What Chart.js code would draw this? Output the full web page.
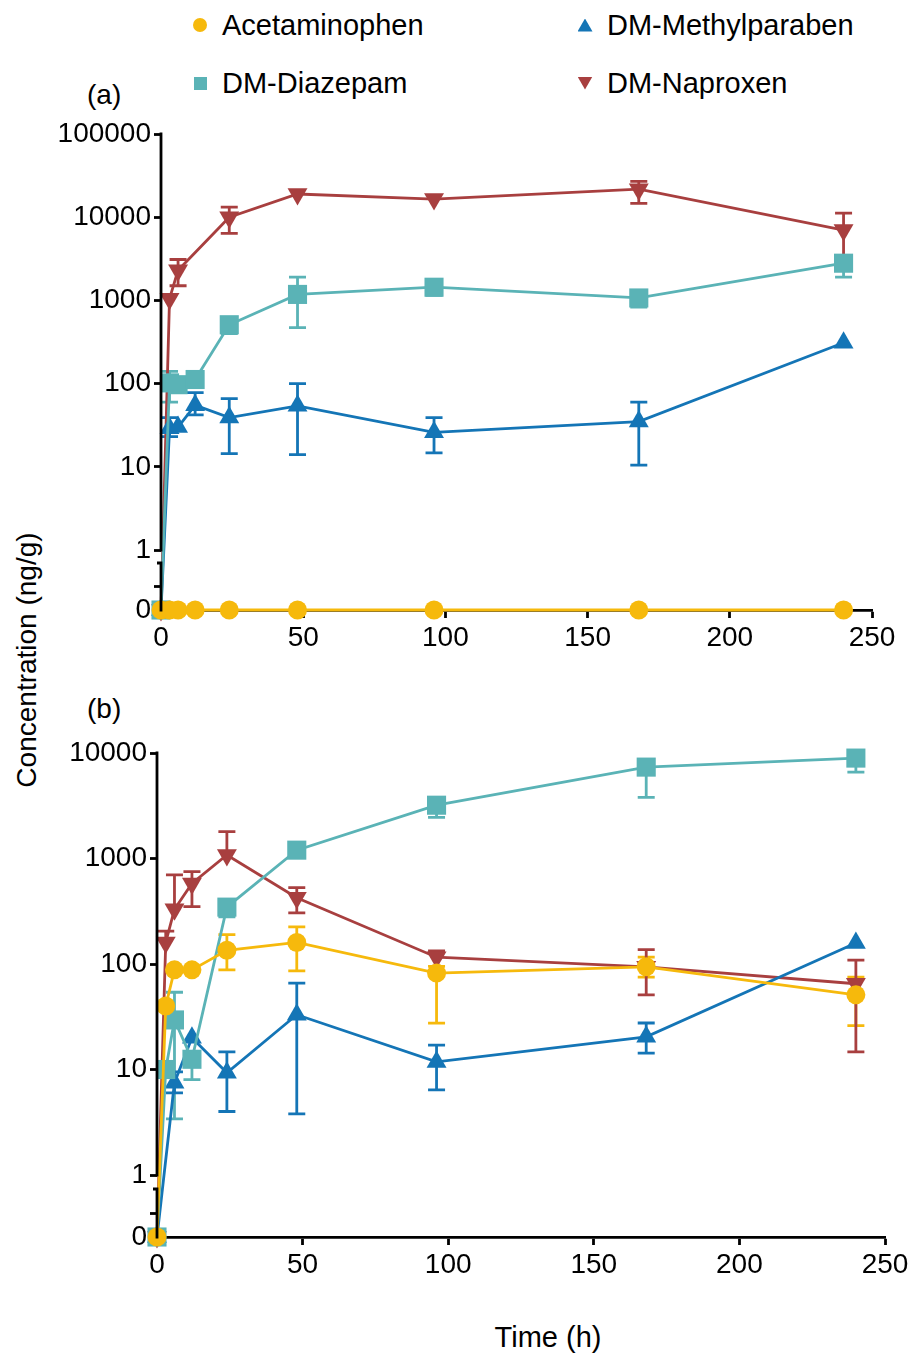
<!DOCTYPE html>
<html>
<head>
<meta charset="utf-8">
<script src="https://cdn.jsdelivr.net/npm/chart.js@4.4.1/dist/chart.umd.min.js"></script>
<style>
  html, body { margin: 0; padding: 0; background: #fff; }
  body { width: 912px; height: 1358px; position: relative; overflow: hidden;
         font-family: "Liberation Sans", Arial, sans-serif; color: #000; }
  canvas { position: absolute; left: 0; }
  #chartA { top: 110px; }
  #chartB { top: 720px; }
  .txt { position: absolute; font-size: 28px; line-height: 30px; white-space: nowrap; }
  .legend-item { position: absolute; font-size: 29px; line-height: 30px; white-space: nowrap; }
  .mk { position: absolute; }
</style>
</head>
<body>
<div id="legend"></div>
<div class="txt" style="left:87px; top:80px;">(a)</div>
<div class="txt" style="left:87px; top:694px;">(b)</div>
<div class="txt" style="left:27px; top:660px; transform: translate(-50%, -50%) rotate(-90deg);">Concentration (ng/g)</div>
<div class="txt" style="left:548px; top:1337px; font-size:29px; transform: translate(-50%, -50%);">Time (h)</div>
<canvas id="chartA" width="912" height="545"></canvas>
<canvas id="chartB" width="912" height="562"></canvas>
<script>
(() => {
  // sampling times (h)
  const times = [0, 3, 6, 12, 24, 48, 96, 168, 240];
  const seriesNames = ["Acetaminophen", "DM-Diazepam", "DM-Methylparaben", "DM-Naproxen"];
  const colors = ["#F6B90C", "#5AB3B6", "#1475B6", "#A83F3F"];
  const yTicksA = [0, 0.5, 1, 10, 100, 1000, 10000, 100000];
  const yTicksB = [0, 0.5, 1, 10, 100, 1000, 10000];

  // panel (a)
  const aAcet = [0, 0, 0, 0, 0, 0, 0, 0, 0];
  const aDiaz = [0, 102, 97, 112, 510, 1180, 1440, 1070, 2800];
  const aDiazLo = [null, 60, null, null, 400, 470, 1150, 830, 1900];
  const aDiazHi = [null, 140, null, null, 620, 1900, 1750, 1250, 3400];
  const aMeth = [0, 29, 30, 55, 39, 54, 26, 35, 310];
  const aMethLo = [null, 23, null, 42, 14.4, 14, 14.7, 10.5, null];
  const aMethHi = [null, 39, null, 78, 66, 100, 39, 60, null];
  const aNap = [0, 1050, 2300, null, 10000, 19000, 16500, 21700, 7000];
  const aNapLo = [null, null, 1500, null, 6400, null, null, 14700, 3300];
  const aNapHi = [null, null, 3100, null, 13200, null, null, 27000, 11200];

  // panel (b)
  const bAcet = [0, 40, 88, 88, 135, 160, 82, 94, 51];
  const bAcetLo = [null, null, null, null, 88, 86, 27.5, 75, 26];
  const bAcetHi = [null, null, null, null, 190, 225, 95, 116, 75];
  const bDiaz = [0, 10, 29.5, 12.5, 346, 1200, 3200, 7350, 8950];
  const bDiazLo = [null, null, 3.4, 8, 280, null, 2450, 3800, 6600];
  const bDiazHi = [null, null, 54, null, null, null, null, null, null];
  const bMeth = [0, null, 7.5, 20, 9.3, 33, 11.8, 20.4, 158];
  const bMethLo = [null, null, 6, null, 4.0, 3.8, 6.4, 14.3, null];
  const bMethHi = [null, null, 9.5, null, 14.7, 66, 17, 27.6, null];
  const bNap = [0, 160, 330, 580, 1080, 425, 116, 94, 65];
  const bNapLo = [null, null, null, 350, null, 305, null, 51, 14.7];
  const bNapHi = [null, 205, 700, 750, 1800, 530, 133, 137, 109];

  const font = { family: "'Liberation Sans', Arial, sans-serif", size: 28 };

  // log axis with a broken linear segment holding 0
  class BrokenLogScale extends Chart.LinearScale {
    determineDataLimits() {
      this.min = 0;
      this.max = this.options.max;
    }
    buildTicks() {
      return this.options.tickValues.map((v) => ({ value: v }));
    }
    toUnit(v) {
      const zg = this.options.zeroGap, bg = this.options.breakGap;
      if (v >= 1) return Math.log10(v);
      return -zg + Math.max(v, 0) * (zg - bg);
    }
    getPixelForValue(v) {
      if (v === null || v === undefined || isNaN(v)) return NaN;
      const lo = -this.options.zeroGap, hi = Math.log10(this.max);
      return this.getPixelForDecimal((this.toUnit(v) - lo) / (hi - lo));
    }
    getValueForPixel(px) {
      const zg = this.options.zeroGap, bg = this.options.breakGap;
      const lo = -zg, hi = Math.log10(this.max);
      const u = lo + this.getDecimalForPixel(px) * (hi - lo);
      return u >= 0 ? Math.pow(10, u) : (u + zg) / (zg - bg);
    }
    lowerTopPixel() {
      const lo = -this.options.zeroGap, hi = Math.log10(this.max);
      return this.getPixelForDecimal((-this.options.breakGap - lo) / (hi - lo));
    }
  }
  BrokenLogScale.id = "brokenLog";
  BrokenLogScale.defaults = {};
  Chart.register(BrokenLogScale);

  const errorBars = {
    id: "errorBars",
    beforeDatasetsDraw(chart) {
      const { ctx } = chart;
      const xs = chart.scales.x, ys = chart.scales.y;
      chart.data.datasets.forEach((ds) => {
        ctx.save();
        ctx.strokeStyle = ds.borderColor;
        ctx.lineWidth = 2.8;
        ds.data.forEach((p) => {
          const px = xs.getPixelForValue(p.x);
          const py = ys.getPixelForValue(p.y);
          ctx.beginPath();
          [p.hi, p.lo].forEach((e) => {
            if (e === null || e === undefined) return;
            const ey = ys.getPixelForValue(e);
            ctx.moveTo(px, py);
            ctx.lineTo(px, ey);
            ctx.moveTo(px - 8.5, ey);
            ctx.lineTo(px + 8.5, ey);
          });
          ctx.stroke();
        });
        ctx.restore();
      });
    },
  };

  const brokenAxis = {
    id: "brokenAxis",
    afterDraw(chart) {
      const { ctx } = chart;
      const ys = chart.scales.y;
      const ax = ys.right;
      const top = ys.getPixelForValue(ys.max);
      const p1 = ys.getPixelForValue(1);
      const lowTop = ys.lowerTopPixel();
      const p0 = ys.getPixelForValue(0);
      ctx.save();
      ctx.strokeStyle = "#000";
      ctx.lineWidth = 2.8;
      ctx.beginPath();
      ctx.moveTo(ax, top - 1.4);
      ctx.lineTo(ax, p1 + 1.4);
      ctx.moveTo(ax, lowTop - 1.4);
      ctx.lineTo(ax, p0 + 1.4);
      ctx.moveTo(ax - 4, lowTop);
      ctx.lineTo(ax, lowTop);
      ctx.stroke();
      ctx.restore();
    },
  };

  const styles = [
    { pointStyle: "circle", pointRadius: 9.5, pointRotation: 0 },
    { pointStyle: "rect", pointRadius: 13.5, pointRotation: 0 },
    { pointStyle: "triangle", pointRadius: 11.5, pointRotation: 0 },
    { pointStyle: "triangle", pointRadius: 11.5, pointRotation: 180 },
  ];

  function makeDataset(i, vals, lo, hi) {
    const data = times
      .map((t, j) => ({ x: t, y: vals[j], lo: lo ? lo[j] : null, hi: hi ? hi[j] : null }))
      .filter((p) => p.y !== null);
    return {
      label: seriesNames[i],
      data,
      borderColor: colors[i],
      backgroundColor: colors[i],
      borderWidth: 2.8,
      pointBorderWidth: 0,
      ...styles[i],
      clip: false,
      spanGaps: true,
      tension: 0,
    };
  }

  function makeChart(el, datasets, cfg) {
    return new Chart(el, {
      type: "line",
      data: { datasets },
      options: {
        responsive: false,
        animation: false,
        events: [],
        layout: { padding: { top: cfg.padTop, right: cfg.padRight, left: 0, bottom: 0 } },
        plugins: { legend: { display: false }, tooltip: { enabled: false } },
        scales: {
          x: {
            type: "linear",
            min: 0,
            max: 250,
            ticks: { stepSize: 50, font, color: "#000", padding: 3, maxRotation: 0 },
            grid: { drawOnChartArea: false, tickLength: 8, tickWidth: 2.8, tickColor: "#000" },
            border: { display: true, width: 2.8, color: "#000" },
            afterFit: (s) => { s.height = 45; },
          },
          y: {
            type: "brokenLog",
            max: cfg.yMax,
            tickValues: cfg.ticks,
            zeroGap: cfg.zeroGap,
            breakGap: cfg.breakGap,
            ticks: {
              font, color: "#000", padding: 3, autoSkip: false,
              callback: (v) => (v === 0.5 ? "" : String(v)),
            },
            grid: { drawOnChartArea: false, tickLength: 7, tickWidth: 2.8, tickColor: "#000" },
            border: { display: false },
            afterFit: (s) => { s.width = cfg.yWidth; },
          },
        },
      },
      plugins: [errorBars, brokenAxis],
    });
  }

  makeChart(document.getElementById("chartA"), [
    makeDataset(0, aAcet),
    makeDataset(1, aDiaz, aDiazLo, aDiazHi),
    makeDataset(2, aMeth, aMethLo, aMethHi),
    makeDataset(3, aNap, aNapLo, aNapHi),
  ], { padTop: 24, padRight: 40, yWidth: 161, yMax: 100000, ticks: yTicksA, zeroGap: 60 / 83.2, breakGap: 13 / 83.2 });

  makeChart(document.getElementById("chartB"), [
    makeDataset(0, bAcet, bAcetLo, bAcetHi),
    makeDataset(1, bDiaz, bDiazLo, bDiazHi),
    makeDataset(2, bMeth, bMethLo, bMethHi),
    makeDataset(3, bNap, bNapLo, bNapHi),
  ], { padTop: 33, padRight: 27, yWidth: 157, yMax: 10000, ticks: yTicksB, zeroGap: 62 / 105.5, breakGap: 14 / 105.5 });

  // legend, 2 x 2
  const legendPos = [
    { x: 200, y: 25 }, { x: 200, y: 83 }, { x: 585, y: 25 }, { x: 585, y: 83 },
  ];
  const legend = document.getElementById("legend");
  seriesNames.forEach((name, i) => {
    const pos = legendPos[i];
    const mk = document.createElement("div");
    mk.className = "mk";
    mk.style.background = colors[i];
    if (i === 0) {
      Object.assign(mk.style, { width: "14px", height: "14px", borderRadius: "50%", left: pos.x - 7 + "px", top: pos.y - 7 + "px" });
    } else if (i === 1) {
      Object.assign(mk.style, { width: "13px", height: "13px", left: pos.x - 6.5 + "px", top: pos.y - 6.5 + "px" });
    } else {
      Object.assign(mk.style, {
        width: "15px", height: "13px", left: pos.x - 7.5 + "px", top: pos.y - 6.5 + "px",
        clipPath: i === 2 ? "polygon(50% 0, 100% 100%, 0 100%)" : "polygon(0 0, 100% 0, 50% 100%)",
      });
    }
    legend.appendChild(mk);
    const t = document.createElement("div");
    t.className = "legend-item";
    t.textContent = name;
    t.style.left = pos.x + 22 + "px";
    t.style.top = pos.y - 15 + "px";
    legend.appendChild(t);
  });
})();
</script>
</body>
</html>
